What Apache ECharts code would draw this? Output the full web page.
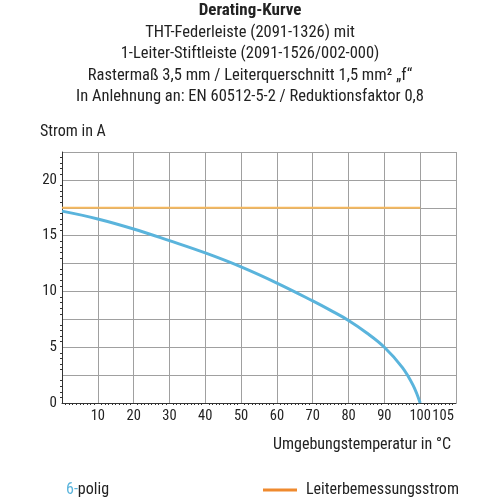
<!DOCTYPE html>
<html>
<head>
<meta charset="utf-8">
<script src="https://cdn.jsdelivr.net/npm/echarts@6/dist/echarts.min.js"></script>
<style>
  html, body { margin: 0; padding: 0; background: #fff; }
  #chart { width: 500px; height: 500px; }
</style>
</head>
<body>
<div id="chart"></div>
<script>
// Derating-Kurve, 6-polig
const titleText = 'Derating-Kurve';
const subLines = [
  'THT-Federleiste (2091-1326) mit',
  '1-Leiter-Stiftleiste (2091-1526/002-000)',
  'Rastermaß 3,5 mm / Leiterquerschnitt 1,5 mm² „f“',
  'In Anlehnung an: EN 60512-5-2 / Reduktionsfaktor 0,8',
];

const temps    = [0, 10, 20, 30, 40, 50, 60, 70, 75, 80, 85, 90, 95, 98, 100];
const current6 = [17.2, 16.5, 15.6, 14.55, 13.45, 12.2, 10.75, 9.15, 8.3, 7.4, 6.3, 5.0, 3.2, 1.6, 0];
const ratedTemps = [0, 100];
const ratedCurrent = [17.5, 17.5];
const extraTick = 105; // extra label under the x axis

const FONT = "'Roboto Condensed', 'Liberation Sans Narrow', 'DejaVu Sans Condensed', sans-serif";
const INK = '#222';
const GRID = '#a0a0a0';
const AXIS = '#333';
const BLUE = '#5ab4dc';
const ORANGE = '#f6b95e';
const ORANGE_KEY = '#ef8a2e';

const chart = echarts.init(document.getElementById('chart'));

chart.setOption({
  animation: false,
  textStyle: { fontFamily: FONT },
  title: [{
    text: titleText,
    subtext: subLines.join('\n'),
    left: 'center', top: -3,
    itemGap: 3,
    textStyle: { fontFamily: FONT, fontSize: 17, fontWeight: 'bold', color: INK },
    subtextStyle: { fontFamily: FONT, fontSize: 16.5, color: INK, lineHeight: 21.5, align: 'center' },
  }, {
    text: 'Strom in A',
    left: 35, top: 119,
    textStyle: { fontFamily: FONT, fontSize: 16, fontWeight: 'normal', color: INK },
  }, {
    text: 'Umgebungstemperatur in °C',
    right: 44, top: 432,
    textStyle: { fontFamily: FONT, fontSize: 16, fontWeight: 'normal', color: INK },
  }],
  legend: [{
    left: 56, top: 477,
    itemWidth: 0, itemHeight: 0, itemGap: 0,
    data: [{ name: '6-polig', icon: 'none' }],
    formatter: () => '{a|6-}{b|polig}',
    textStyle: {
      rich: {
        a: { fontFamily: FONT, fontSize: 16, color: BLUE },
        b: { fontFamily: FONT, fontSize: 16, color: INK },
      },
    },
  }, {
    left: 258, top: 477,
    itemWidth: 34, itemHeight: 3,
    data: [{ name: 'Leiterbemessungsstrom', icon: 'rect', itemStyle: { color: ORANGE_KEY } }],
    textStyle: { fontFamily: FONT, fontSize: 16, color: INK, padding: [0, 0, 0, 4] },
  }],
  grid: { left: 62, right: 44, top: 152, bottom: 97 },
  xAxis: [{
    type: 'value', min: 0, max: 110, interval: 10,
    axisLine: { lineStyle: { color: AXIS, width: 1 } },
    axisTick: { show: false },
    minorTick: { show: true, splitNumber: 10, length: 2, lineStyle: { color: AXIS } },
    splitLine: { show: true, lineStyle: { color: GRID, width: 1 } },
    axisLabel: {
      color: INK, fontSize: 14.5, margin: 6,
      formatter: (v) => (v === 0 || v === 110) ? '' : String(v),
    },
  }, {
    type: 'value', min: 0, max: 110, interval: extraTick, position: 'bottom',
    axisLine: { show: false }, axisTick: { show: false }, splitLine: { show: false },
    axisLabel: {
      color: INK, fontSize: 14.5, margin: 6, padding: [0, 0, 0, 10],
      formatter: (v) => v === extraTick ? String(v) : '',
    },
  }],
  yAxis: {
    type: 'value', min: 0, max: 22.5, interval: 2.5,
    axisLine: { show: true, lineStyle: { color: AXIS, width: 1 } },
    axisTick: { show: false },
    minorTick: { show: true, splitNumber: 5, length: 2, lineStyle: { color: AXIS } },
    splitLine: { show: true, lineStyle: { color: GRID, width: 1 } },
    axisLabel: {
      color: INK, fontSize: 15, margin: 5,
      formatter: (v) => (v % 5 === 0) ? String(v) : '',
    },
  },
  series: [{
    name: 'Leiterbemessungsstrom',
    type: 'line',
    data: ratedTemps.map((t, i) => [t, ratedCurrent[i]]),
    showSymbol: false,
    lineStyle: { color: ORANGE, width: 2 },
    itemStyle: { color: ORANGE },
    z: 3,
  }, {
    name: '6-polig',
    type: 'line',
    data: temps.map((t, i) => [t, current6[i]]),
    smooth: 0.4,
    showSymbol: false,
    lineStyle: { color: BLUE, width: 3 },
    itemStyle: { color: BLUE },
    z: 4,
  }],
});
</script>
</body>
</html>
